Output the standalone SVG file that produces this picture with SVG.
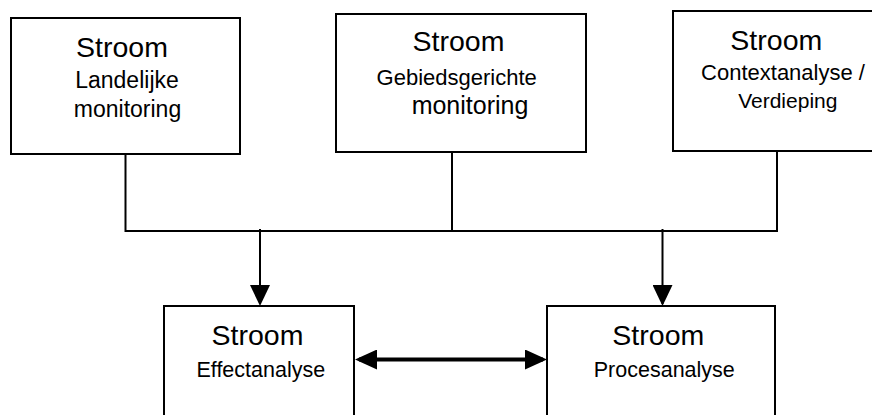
<svg xmlns="http://www.w3.org/2000/svg" width="872" height="415" viewBox="0 0 872 415">
  <style>
    .box { fill: #ffffff; stroke: #000000; stroke-width: 2; }
    .t { font-family: "Liberation Sans", Arial, sans-serif; fill: #000000; text-anchor: middle; }
    .big { font-size: 28.5px; }
    .sub { font-size: 23px; }
    .subs { font-size: 21.5px; }
    .line { fill: none; stroke: #000000; stroke-width: 2; }
    .thick { fill: none; stroke: #000000; stroke-width: 3.8; }
  </style>
  <defs>
    <marker id="arrow" viewBox="0 0 21 20" refX="19" refY="10" markerWidth="21" markerHeight="20" markerUnits="userSpaceOnUse" orient="auto">
      <path d="M0,0 L21,10 L0,20 z" fill="#000000"/>
    </marker>
    <marker id="arrow2" viewBox="0 0 22 20" refX="18" refY="10" markerWidth="22" markerHeight="20" markerUnits="userSpaceOnUse" orient="auto-start-reverse">
      <path d="M0,0 L22,10 L0,20 z" fill="#000000"/>
    </marker>
  </defs>
  <rect width="872" height="415" fill="#ffffff"/>

  <g id="connectors">
    <path class="line" d="M125.5,154 V231 H777 V151"/>
    <path class="line" d="M452,152 V231"/>
    <path class="line" d="M260,229 V304" marker-end="url(#arrow)"/>
    <path class="line" d="M662.5,229 V304" marker-end="url(#arrow)"/>
    <path class="thick" d="M359,359.5 H543" marker-start="url(#arrow2)" marker-end="url(#arrow2)"/>
  </g>

  <g id="landelijke">
    <rect class="box" x="11" y="18" width="229" height="136"/>
    <text class="t big" x="122" y="57">Stroom</text>
    <text class="t sub" x="127" y="88">Landelijke</text>
    <text class="t sub" x="127.5" y="117">monitoring</text>
  </g>

  <g id="gebiedsgerichte">
    <rect class="box" x="336" y="14" width="250" height="138"/>
    <text class="t big" x="458.5" y="51">Stroom</text>
    <text class="t" style="font-size:22px" x="456.7" y="85">Gebiedsgerichte</text>
    <text class="t" style="font-size:25px" x="470" y="114">monitoring</text>
  </g>

  <g id="context">
    <rect class="box" x="673" y="11" width="230" height="140"/>
    <text class="t big" x="776.3" y="49.5">Stroom</text>
    <text class="t" style="font-size:22px" x="783" y="80">Contextanalyse /</text>
    <text class="t" style="font-size:21px" x="787.8" y="107.5">Verdieping</text>
  </g>

  <g id="effect">
    <rect class="box" x="164" y="306" width="190" height="130"/>
    <text class="t big" x="257.5" y="345">Stroom</text>
    <text class="t subs" x="260.8" y="377">Effectanalyse</text>
  </g>

  <g id="proces">
    <rect class="box" x="547" y="306" width="228" height="130"/>
    <text class="t big" x="658.3" y="345">Stroom</text>
    <text class="t subs" x="664.3" y="377">Procesanalyse</text>
  </g>
</svg>
